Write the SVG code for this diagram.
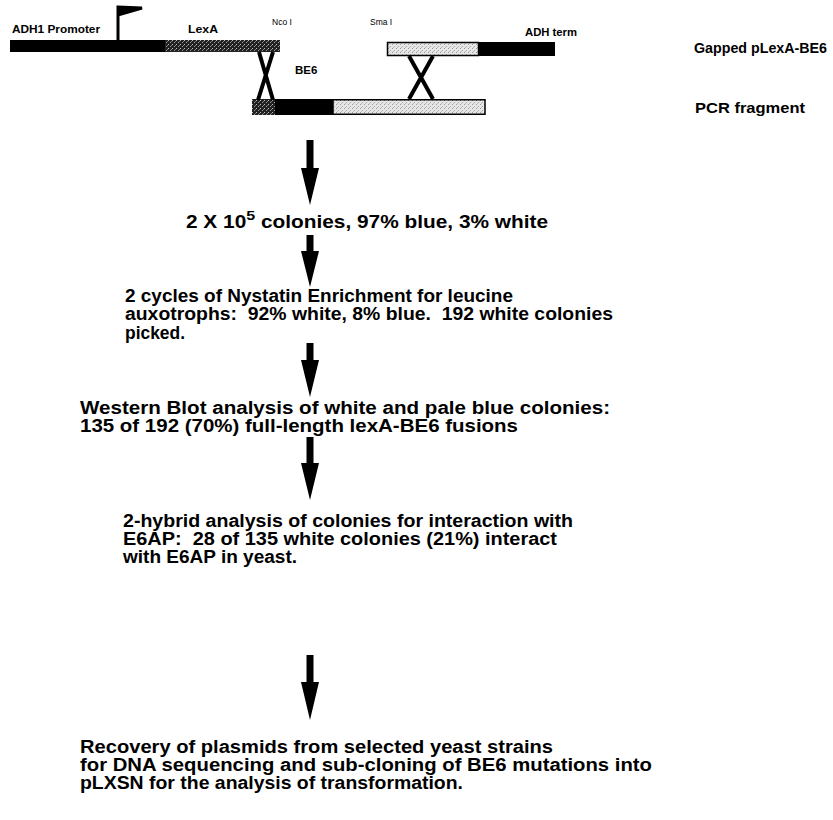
<svg xmlns="http://www.w3.org/2000/svg" width="833" height="820" viewBox="0 0 833 820">
<defs>
<pattern id="dark" width="4" height="4" patternUnits="userSpaceOnUse">
<rect width="4" height="4" fill="#222"/>
<rect x="0" y="0" width="1" height="1" fill="#bbb"/>
<rect x="2" y="2" width="1" height="1" fill="#999"/>
<rect x="3" y="1" width="1" height="1" fill="#777"/>
</pattern>
<pattern id="light" width="4" height="4" patternUnits="userSpaceOnUse">
<rect width="4" height="4" fill="#e6e6e6"/>
<rect x="0" y="0" width="1" height="1" fill="#999"/>
<rect x="2" y="2" width="1" height="1" fill="#aaa"/>
<rect x="1" y="3" width="1" height="1" fill="#bbb"/>
</pattern>
</defs>
<style>
.t{font-family:"Liberation Sans",Arial,sans-serif;font-weight:bold;fill:#000}
.big{font-size:17.5px}
.lab{font-size:11.5px}
.sm{font-size:8.5px;font-weight:normal}
.hd{font-size:14.5px}
.x{stroke:#000;stroke-width:4;fill:none}
.arr{fill:#000}
</style>

<g id="gapped-plasmid">
<rect x="10" y="40" width="155" height="12" fill="#000"/>
<rect x="165" y="40" width="115" height="12" fill="url(#dark)"/>
<rect x="387.5" y="42.5" width="91" height="13" fill="url(#light)" stroke="#000" stroke-width="1.5"/>
<rect x="478" y="42" width="77" height="14" fill="#000"/>
<path d="M118 40 V7 M118 7 L142 8 L118 15 Z" stroke="#000" stroke-width="3" fill="#000"/>
<text class="t lab" x="12" y="33" textLength="88" lengthAdjust="spacingAndGlyphs">ADH1 Promoter</text>
<text class="t lab" x="188" y="33" textLength="30" lengthAdjust="spacingAndGlyphs">LexA</text>
<text class="t sm" x="272" y="25">Nco I</text>
<text class="t sm" x="370" y="25">Sma I</text>
<text class="t lab" x="525" y="36" textLength="52" lengthAdjust="spacingAndGlyphs">ADH term</text>
<text class="t lab" x="295" y="74">BE6</text>
<text class="t hd" x="694" y="53" textLength="133" lengthAdjust="spacingAndGlyphs">Gapped pLexA-BE6</text>
</g>

<g id="pcr-fragment">
<rect x="252" y="99" width="23" height="16" fill="url(#dark)"/>
<rect x="275" y="99" width="58" height="16" fill="#000"/>
<rect x="333" y="99.75" width="152" height="14.5" fill="url(#light)" stroke="#000" stroke-width="1.5"/>
<text class="t hd" x="695" y="113" textLength="110" lengthAdjust="spacingAndGlyphs">PCR fragment</text>
</g>

<g id="crossovers">
<path class="x" d="M259 52 L273 100 M273 52 L258 100"/>
<path class="x" d="M409 56 L433 99 M433 56 L409 99"/>
</g>

<g id="step1">
<text class="t big" x="186" y="228" textLength="362" lengthAdjust="spacingAndGlyphs">2 X 10<tspan dy="-8" font-size="13.5">5</tspan><tspan dy="8"> colonies, 97% blue, 3% white</tspan></text>
</g>
<g id="step2">
<text class="t big" x="125" y="302" textLength="388" lengthAdjust="spacingAndGlyphs">2 cycles of Nystatin Enrichment for leucine</text>
<text class="t big" x="125" y="320" textLength="488" lengthAdjust="spacingAndGlyphs" xml:space="preserve">auxotrophs:  92% white, 8% blue.  192 white colonies</text>
<text class="t big" x="125" y="339" textLength="60" lengthAdjust="spacingAndGlyphs">picked.</text>
</g>
<g id="step3">
<text class="t big" x="80" y="414" textLength="530" lengthAdjust="spacingAndGlyphs">Western Blot analysis of white and pale blue colonies:</text>
<text class="t big" x="80" y="432" textLength="438" lengthAdjust="spacingAndGlyphs">135 of 192 (70%) full-length lexA-BE6 fusions</text>
</g>
<g id="step4">
<text class="t big" x="123" y="527" textLength="450" lengthAdjust="spacingAndGlyphs">2-hybrid analysis of colonies for interaction with</text>
<text class="t big" x="123" y="545" textLength="434" lengthAdjust="spacingAndGlyphs" xml:space="preserve">E6AP:  28 of 135 white colonies (21%) interact</text>
<text class="t big" x="123" y="563" textLength="174" lengthAdjust="spacingAndGlyphs">with E6AP in yeast.</text>
</g>
<g id="step5">
<text class="t big" x="80" y="753" textLength="473" lengthAdjust="spacingAndGlyphs">Recovery of plasmids from selected yeast strains</text>
<text class="t big" x="80" y="771" textLength="572" lengthAdjust="spacingAndGlyphs">for DNA sequencing and sub-cloning of BE6 mutations into</text>
<text class="t big" x="80" y="789" textLength="383" lengthAdjust="spacingAndGlyphs">pLXSN for the analysis of transformation.</text>
</g>

<g id="connectors">
<path class="arr" d="M306.5 140 H313.5 V168 H319 L310 205 L301 168 H306.5 Z"/>
<path class="arr" d="M306.5 235 H313.5 V251 H319 L310 287 L301 251 H306.5 Z"/>
<path class="arr" d="M306.5 343 H313.5 V360 H319 L310 397 L301 360 H306.5 Z"/>
<path class="arr" d="M306.5 437 H313.5 V463 H319 L310 500 L301 463 H306.5 Z"/>
<path class="arr" d="M306.5 655 H313.5 V682 H319 L310 720 L301 682 H306.5 Z"/>
</g>
</svg>
